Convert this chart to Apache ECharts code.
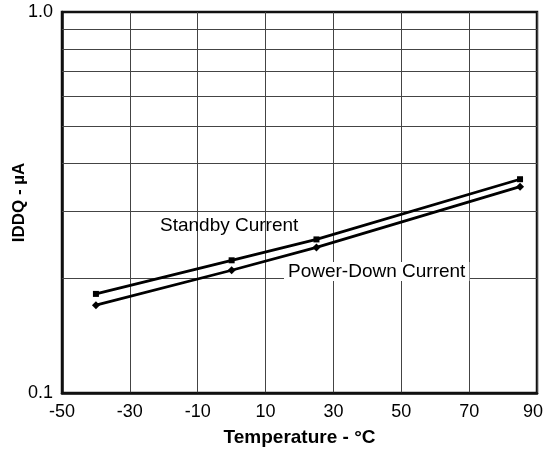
<!DOCTYPE html>
<html>
<head>
<meta charset="utf-8">
<script src="https://cdn.jsdelivr.net/npm/echarts@6/dist/echarts.min.js"></script>
<style>
  html, body { margin: 0; padding: 0; background: #fff; }
  #chart { width: 544px; height: 451px; }
</style>
</head>
<body>
<div id="chart"></div>
<script>
// values
var temps = [-40, 0, 25, 85];
var standby = [0.182, 0.223, 0.253, 0.364];
var powerDown = [0.170, 0.210, 0.241, 0.348];
var minorLines = [0.2, 0.3, 0.4, 0.5, 0.6, 0.7, 0.8, 0.9];

function pairs(xs, ys) {
  var out = [];
  for (var i = 0; i < xs.length; i++) {
    out.push([xs[i], ys[i]]);
  }
  return out;
}

var font = 'Liberation Sans, Arial, sans-serif';
var myChart = echarts.init(document.getElementById('chart'));

var option = {
  animation: false,
  grid: {
    left: 62,
    right: 7,
    top: 12,
    bottom: 58,
    outerBoundsMode: 'none',
    containLabel: false,
    show: true,
    borderColor: '#111',
    borderWidth: 2.5
  },
  xAxis: {
    type: 'value',
    min: -50,
    max: 90,
    interval: 20,
    name: 'Temperature - °C',
    nameLocation: 'middle',
    nameGap: 35,
    nameMoveOverlap: false,
    nameTextStyle: { fontFamily: font, fontSize: 19, fontWeight: 'bold', color: '#000' },
    axisLine: { show: true, onZero: false, lineStyle: { color: '#111', width: 2.5 } },
    axisTick: { show: false },
    axisLabel: {
      fontFamily: font, fontSize: 18, color: '#000', margin: 10,
      // the last label sits a little left of the border, as in the source
      formatter: function (v) { return v === 90 ? '{last|' + v + '}' : '' + v; },
      rich: { last: { fontFamily: font, fontSize: 18, color: '#000', padding: [0, 8, 0, 0] } }
    },
    splitLine: { show: true, lineStyle: { color: '#444', width: 1 } }
  },
  yAxis: {
    type: 'log',
    logBase: 10,
    min: 0.1,
    max: 1,
    name: 'IDDQ - µA',
    nameLocation: 'middle',
    nameGap: 34,
    nameMoveOverlap: false,
    nameTextStyle: { fontFamily: font, fontSize: 17, fontWeight: 'bold', color: '#000' },
    axisLine: { show: true, onZero: false, lineStyle: { color: '#111', width: 2.5 } },
    axisTick: { show: false },
    axisLabel: {
      fontFamily: font, fontSize: 18, color: '#000', margin: 9,
      formatter: function (v) { return v.toFixed(1); }
    },
    splitLine: { show: false }
  },
  series: [
    {
      name: 'Standby Current',
      type: 'line',
      data: pairs(temps, standby),
      symbol: 'rect',
      symbolSize: 6,
      lineStyle: { color: '#000', width: 2.8 },
      itemStyle: { color: '#000' },
      z: 5,
      markLine: {
        silent: true,
        symbol: 'none',
        label: { show: false },
        lineStyle: { color: '#444', width: 1, type: 'solid' },
        z: 1,
        data: minorLines.map(function (v) { return { yAxis: v }; })
      }
    },
    {
      name: 'Power-Down Current',
      type: 'line',
      data: pairs(temps, powerDown),
      symbol: 'diamond',
      symbolSize: 8,
      lineStyle: { color: '#000', width: 2.8 },
      itemStyle: { color: '#000' },
      z: 5
    }
  ],
  graphic: [
    {
      type: 'text',
      left: 160,
      top: 216,
      z: 10,
      style: { text: 'Standby Current', fontFamily: font, fontSize: 19, fill: '#000' }
    },
    {
      type: 'text',
      left: 284,
      top: 262,
      z: 10,
      style: {
        text: 'Power-Down Current', fontFamily: font, fontSize: 19, fill: '#000',
        backgroundColor: '#fff', padding: [0, 4]
      }
    }
  ]
};

myChart.setOption(option);
</script>
</body>
</html>
